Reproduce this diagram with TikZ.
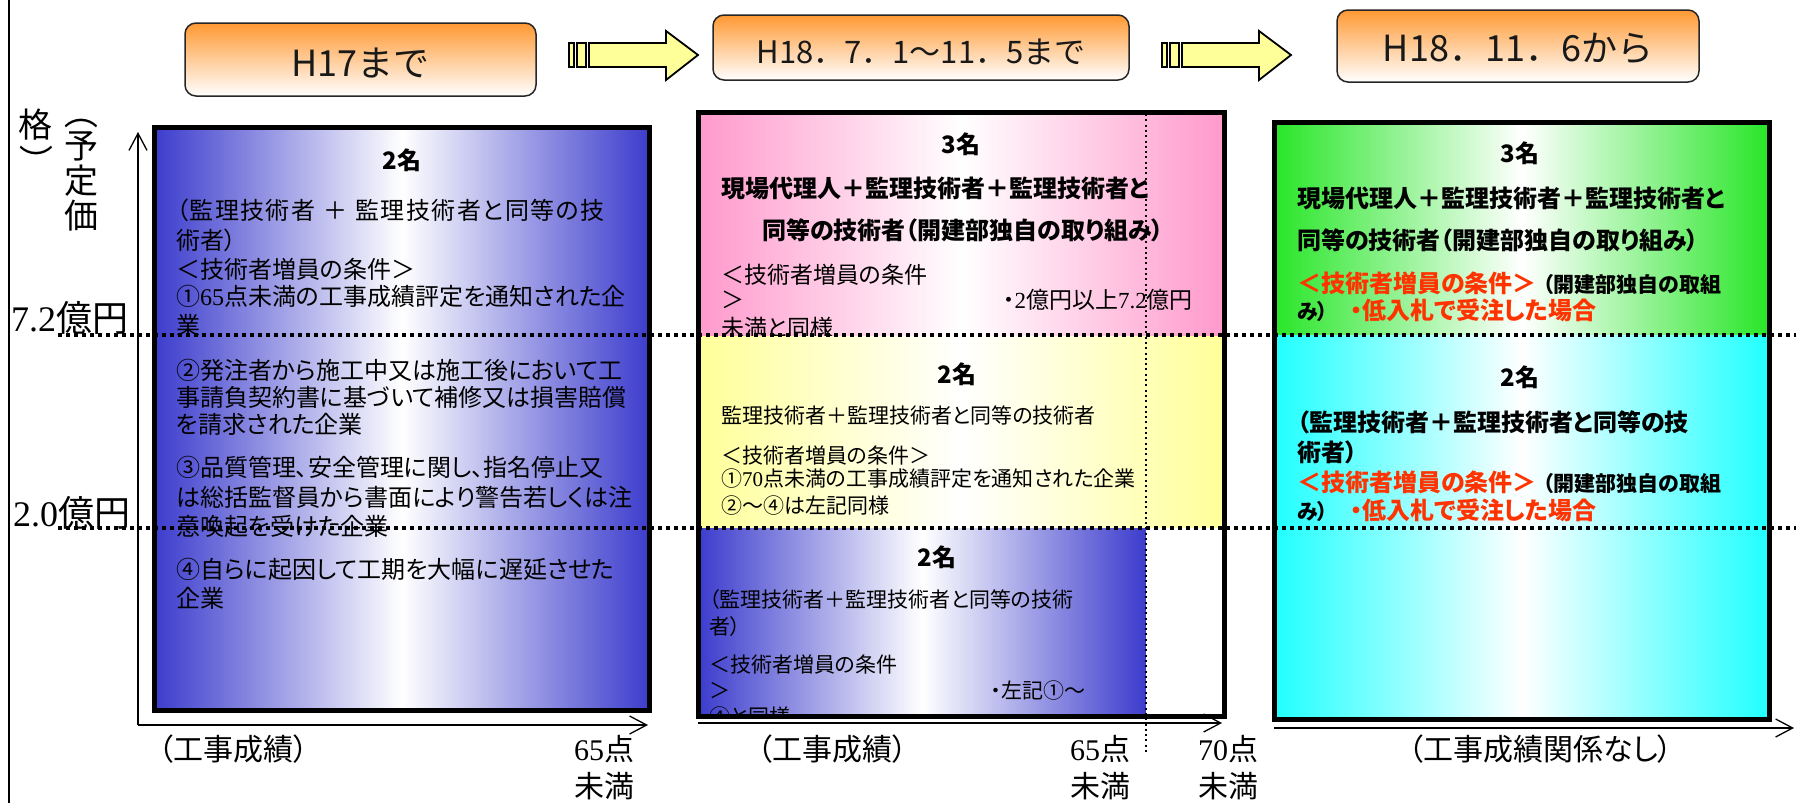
\documentclass[tikz,border=0pt]{standalone}
\usepackage{fontspec}
\setmainfont{Noto Sans CJK JP}[RawFeature=+palt]
\newfontfamily\jpfw{Noto Sans CJK JP}
\newfontfamily\tms{Liberation Serif}
\usetikzlibrary{arrows.meta}
\newcommand\fsz[1]{\fontsize{#1}{#1}\selectfont}
\definecolor{pblue}{RGB}{60,60,205}
\definecolor{ppink}{RGB}{255,153,204}
\definecolor{pyellow}{RGB}{255,255,153}
\definecolor{pgreen}{RGB}{40,230,40}
\definecolor{pcyan}{RGB}{32,255,255}
\definecolor{hor}{RGB}{255,153,51}
\definecolor{ared}{RGB}{255,51,0}
\definecolor{ayel}{RGB}{255,255,153}
\tikzset{
 body/.style={anchor=base west, inner sep=0pt, font=\fsz{24}},
 small/.style={anchor=base west, inner sep=0pt, font=\fsz{21}},
 boldtxt/.style={anchor=base west, inner sep=0pt, font=\bfseries\fsz{24}},
 title/.style={anchor=base, inner sep=0pt, font=\bfseries\fsz{24}},
 axlab/.style={anchor=base west, inner sep=0pt, font=\fsz{30}},
 pricelab/.style={anchor=base west, inner sep=0pt, font=\fsz{36}},
 vert/.style={anchor=center, inner sep=0pt, font=\jpfw\fsz{34}},
 frame/.style={draw=black, line width=5pt},
 axis/.style={line width=1.3pt, -{Straight Barb[length=17pt,width=18pt]}},
 level/.style={line width=3.6pt, dash pattern=on 3.6pt off 4.4pt},
 vdots/.style={line width=2pt, dash pattern=on 2pt off 3.3pt},
 hdr/.style={draw=black!85, line width=1.5pt, rounded corners=11pt, top color=hor, bottom color=white, inner sep=0pt},
 hdrtext/.style={inner sep=0pt, text=black!90},
 arr/.style={draw=black, line width=1.8pt, fill=ayel, line join=miter},
 blockarrow/.pic={
  \draw[arr] (0,43) rectangle (5,67);
  \draw[arr] (8,43) rectangle (17,67);
  \draw[arr] (20,43) -- (97,43) -- (97,31) -- (129,55) -- (97,80) -- (97,67) -- (20,67) -- cycle;
 }
}
\begin{document}
\begin{tikzpicture}[x=1pt,y=-1pt]
\useasboundingbox[fill=white] (0,0) rectangle (1796,803);
% left border line
\coordinate (lb1) at (9,0); \coordinate (lb2) at (9,803);
\draw[line width=1.5pt] (lb1) -- (lb2);
% headers
\node[hdr, minimum width=351pt, minimum height=73pt] (h1) at (360.5,59.5) {};
\node[hdrtext, font=\jpfw\fsz{36}] (h1t) at ([yshift=-4pt]h1.center) {H17まで};
\node[hdr, minimum width=416pt, minimum height=65pt] (h2) at (921,47.5) {};
\node[hdrtext, font=\jpfw\fsz{31}] (h2t) at ([yshift=-4.5pt]h2.center) {H18．7．1～11．5まで};
\node[hdr, minimum width=362pt, minimum height=72pt] (h3) at (1518,46) {};
\node[hdrtext, font=\jpfw\fsz{36}] (h3t) at ([yshift=-2.5pt]h3.center) {H18．11．6から};
% arrows
\pic (a1) at (569,0) {blockarrow};
\pic (a2) at (1162,0) {blockarrow};
% vertical axis label
\node[vert, rotate=-90] (vp1) at (81,112) {（};
\node[vert] (vp2) at (81,146) {予};
\node[vert] (vp3) at (81,181) {定};
\node[vert] (vp4) at (81,216) {価};
\node[vert] (vp5) at (36,125) {格};
\node[vert, rotate=-90] (vp6) at (36,161) {）};
% price labels
\node[pricelab] (l72) at (11,331) {{\tms 7.2}億円};
\node[pricelab] (l20) at (13,526) {{\tms 2.0}億円};

% ---------- panel 1
\path[left color=pblue, right color=pblue, middle color=white] (154.5,127.5) rectangle (649.5,710.5);
\node[title] (p1n) at (402,169) {2名};
\node[body] (p1a) at (176,219) {\addfontfeature{LetterSpace=6}（監理技術者\hspace{8pt}＋\hspace{8pt}監理技術者と同等の技};
\node[body] (p1b) at (176,249) {術者）};
\node[body] (p1c) at (176,278) {＜技術者増員の条件＞};
\node[body] (p1d) at (176,305) {①{\tms 65}点未満の工事成績評定を通知された企};
\node[body] (p1e) at (176,334) {業};
\node[body] (p1f) at (176,379) {②発注者から施工中又は施工後において工};
\node[body] (p1g) at (176,406) {事請負契約書に基づいて補修又は損害賠償};
\node[body] (p1h) at (176,433) {を請求された企業};
\node[body] (p1i) at (176,476) {③品質管理、安全管理に関し、指名停止又};
\node[body] (p1j) at (176,506) {は総括監督員から書面により警告若しくは注};
\node[body] (p1k) at (176,535) {意喚起を受けた企業};
\node[body] (p1l) at (176,578) {④自らに起因して工期を大幅に遅延させた};
\node[body] (p1m) at (176,607) {企業};
\draw[frame] (154.5,127.5) rectangle (649.5,710.5);

% ---------- panel 2
\begin{scope}
\clip (698.5,112.5) rectangle (1224.5,716.5);
\path[left color=ppink, right color=ppink, middle color=white] (698.5,112.5) rectangle (1224.5,336);
\node[title] (p2n3) at (961,153) {3名};
\node[boldtxt] (p2a) at (721,197) {現場代理人＋監理技術者＋監理技術者と};
\node[boldtxt] (p2b) at (762,239) {同等の技術者（開建部独自の取り組み）};
\node[body, font=\fsz{23}] (p2c) at (721,283) {＜技術者増員の条件};
\node[body, font=\fsz{23}] (p2d) at (721,308) {＞};
\node[body, font=\fsz{23}] (p2e) at (1003,308) {・{\tms 2}億円以上{\tms 7.2}億円};
\node[body, font=\fsz{23}] (p2f) at (721,336) {未満と同様};
\path[left color=pyellow, right color=pyellow, middle color=white] (698.5,336) rectangle (1224.5,528);
\node[title] (p2n2) at (957,383) {2名};
\node[small] (p2g) at (721,423) {監理技術者＋監理技術者と同等の技術者};
\node[small] (p2h) at (721,463) {＜技術者増員の条件＞};
\node[small] (p2i) at (721,486) {①{\tms 70}点未満の工事成績評定を通知された企業};
\node[small] (p2j) at (721,513) {②～④は左記同様};
\path[left color=pblue, right color=pblue, middle color=white] (698.5,528) rectangle (1146,716.5);
\path[fill=white] (1146,528) rectangle (1224.5,716.5);
\node[title] (p2n1) at (937,566) {2名};
\node[small] (p2k) at (709,607) {（監理技術者＋監理技術者と同等の技術};
\node[small] (p2l) at (709,634) {者）};
\node[small] (p2m) at (709,672) {＜技術者増員の条件};
\node[small] (p2o) at (709,698) {＞};
\node[small] (p2p) at (991,698) {・左記①～};
\node[small] (p2q) at (709,724) {④と同様};
\end{scope}
\draw[frame] (698.5,112.5) rectangle (1224.5,716.5);

% ---------- panel 3
\path[left color=pgreen, right color=pgreen, middle color=white] (1274.5,122.5) rectangle (1769.5,335);
\path[left color=pcyan, right color=pcyan, middle color=white] (1274.5,335) rectangle (1769.5,719.5);
\node[title] (p3n3) at (1520,162) {3名};
\node[boldtxt] (p3a) at (1297,207) {現場代理人＋監理技術者＋監理技術者と};
\node[boldtxt] (p3b) at (1297,249) {同等の技術者（開建部独自の取り組み）};
\node[boldtxt, text=ared] (p3c) at (1297,292) {＜技術者増員の条件＞};
\node[boldtxt, font=\bfseries\fsz{21}] (p3d) at (1543,292) {（開建部独自の取組};
\node[boldtxt, font=\bfseries\fsz{21}] (p3e) at (1297,319) {み）};
\node[boldtxt, text=ared] (p3f) at (1350,319) {・低入札で受注した場合};
\node[title] (p3n2) at (1520,386) {2名};
\node[boldtxt] (p3g) at (1297,431) {（監理技術者＋監理技術者と同等の技};
\node[boldtxt] (p3h) at (1297,461) {術者）};
\node[boldtxt, text=ared] (p3i) at (1297,491) {＜技術者増員の条件＞};
\node[boldtxt, font=\bfseries\fsz{21}] (p3j) at (1543,491) {（開建部独自の取組};
\node[boldtxt, font=\bfseries\fsz{21}] (p3k) at (1297,519) {み）};
\node[boldtxt, text=ared] (p3l) at (1350,519) {・低入札で受注した場合};
\draw[frame] (1274.5,122.5) rectangle (1769.5,719.5);

% ---------- axes
\coordinate (o1) at (138,725); \coordinate (y1) at (138,132); \coordinate (x1) at (648,725);
\draw[axis] (o1) -- (y1);
\draw[axis] (o1) -- (x1);
\coordinate (o2) at (698,723); \coordinate (x2) at (1222,723);
\draw[axis] (o2) -- (x2);
\coordinate (o3) at (1274,728); \coordinate (x3) at (1794,728);
\draw[axis] (o3) -- (x3);
\node[axlab] (ax1) at (158,760) {（工事成績）};
\node[axlab] (ax1a) at (574,760) {{\tms 65}点};
\node[axlab] (ax1b) at (574,797) {未満};
\node[axlab] (ax2) at (757,760) {（工事成績）};
\node[axlab] (ax2a) at (1070,760) {{\tms 65}点};
\node[axlab] (ax2b) at (1070,797) {未満};
\node[axlab] (ax2c) at (1198,760) {{\tms 70}点};
\node[axlab] (ax2d) at (1198,797) {未満};
\node[axlab] (ax3) at (1408,760) {（工事成績関係なし）};

% ---------- level lines
\coordinate (d1s) at (58,335); \coordinate (d1e) at (1796,335);
\coordinate (d2s) at (58,528); \coordinate (d2e) at (1796,528);
\draw[level] (d1s) -- (d1e);
\draw[level] (d2s) -- (d2e);
\coordinate (v1s) at (1146,114); \coordinate (v1e) at (1146,752);
\draw[vdots] (v1s) -- (v1e);
\end{tikzpicture}
\end{document}
